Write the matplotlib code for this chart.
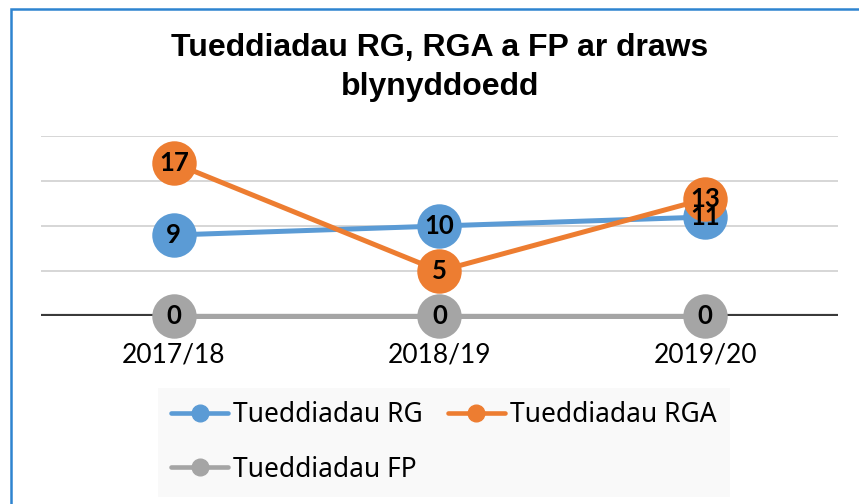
import numpy as np
import matplotlib.pyplot as plt
from matplotlib.patches import Rectangle
from matplotlib.lines import Line2D

# Data
blynyddoedd = ['2017/18', '2018/19', '2019/20']
rg = [9, 10, 11]
rga = [17, 5, 13]
fp = [0, 0, 0]

glas = '#5B9BD5'
oren = '#ED7D31'
llwyd = '#A5A5A5'

fig = plt.figure(figsize=(8.59, 5.04), dpi=100)
ax = fig.add_axes([41/859, 1 - 316/504, (838 - 41)/859, (316 - 136)/504])

x = np.arange(len(blynyddoedd))

# Grid lines
for g in [5, 10, 15, 20]:
    ax.axhline(g, color='#cfcfcf', lw=1.2, zorder=0)
ax.axhline(0, color='#3a3a3a', lw=3, zorder=1)

cyfresi = [(rg, glas, 'Tueddiadau RG'),
           (rga, oren, 'Tueddiadau RGA'),
           (fp, llwyd, 'Tueddiadau FP')]
for i, (vals, col, lab) in enumerate(cyfresi):
    ax.plot(x, vals, color=col, lw=3.6, marker='o', markersize=32,
            markeredgewidth=0, solid_capstyle='round', clip_on=False, zorder=2 + i, label=lab)

# Data labels
for vals in [rg, rga, fp]:
    for xi, v in zip(x, vals):
        ax.text(xi, v, str(v), ha='center', va='center', fontsize=18.5,
                fontweight='bold', family='Lato', color='black', zorder=10)

ax.set_xlim(-0.5, 2.5)
ax.set_ylim(0, 20)
ax.set_yticks([])
ax.set_xticks(x)
ax.set_xticklabels(blynyddoedd, family='Lato', fontsize=19)
ax.tick_params(axis='x', length=0, pad=19)
for s in ax.spines.values():
    s.set_visible(False)

# Legend (row order RG, RGA / FP)
handles = [Line2D([0], [0], color=c, lw=3.3, marker='o', markersize=12, solid_capstyle='round')
           for _, c, _ in cyfresi]
labels = [l for _, _, l in cyfresi]
order = [0, 2, 1]
leg = fig.legend([handles[i] for i in order], [labels[i] for i in order], ncol=2,
                 loc='upper left', bbox_to_anchor=(158/859, 1 - 388/504), frameon=True,
                 prop={'family': 'Noto Sans', 'size': 19}, handlelength=2.15,
                 handletextpad=0.2, columnspacing=0.95, labelspacing=1.0,
                 borderpad=0.5, borderaxespad=0)
leg.get_frame().set_facecolor('#f8f8f8')
leg.get_frame().set_edgecolor('none')
leg.get_frame().set_boxstyle('square', pad=0)

# Title
fig.text(440/859, 1 - 48/504, 'Tueddiadau RG, RGA a FP ar draws', ha='center', va='center',
         fontsize=23, fontweight='bold', family='Liberation Sans')
fig.text(440/859, 1 - 87/504, 'blynyddoedd', ha='center', va='center',
         fontsize=23, fontweight='bold', family='Liberation Sans')

# Blue frame (right and bottom edges fall outside the image)
y_top = 1 - 9/504
fig.patches.append(Rectangle((11/859, -0.2), 1.2, y_top + 0.2, transform=fig.transFigure,
                             fill=False, edgecolor='#2e84d0', lw=1.8))

fig.savefig('out.png', dpi=100)
